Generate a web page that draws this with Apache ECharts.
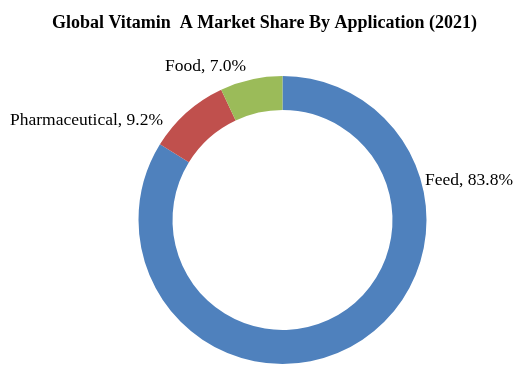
<!DOCTYPE html>
<html><head><meta charset="utf-8">
<script src="https://cdn.jsdelivr.net/npm/echarts@6/dist/echarts.min.js"></script>
<style>html,body{margin:0;padding:0;background:#fff}#c{width:529px;height:379px}</style>
</head><body><div id="c"></div>
<script>
const titleText = 'Global Vitamin  A Market Share By Application (2021)';
const categories = ['Feed', 'Pharmaceutical', 'Food'];
const shares = [83.8, 9.2, 7.0];
const colors = ['#4F81BD', '#C0504D', '#9BBB59'];
const labelSpots = [[425, 180], [10, 120], [165, 66]];

const chart = echarts.init(document.getElementById('c'), null, {renderer: 'canvas'});
chart.setOption({
  animation: false,
  title: {
    text: titleText, left: 'center', top: 9,
    textStyle: {fontFamily: 'Liberation Serif', fontWeight: 'bold', fontSize: 18, color: '#000'}
  },
  series: [{
    type: 'pie',
    center: [282.5, 220],
    radius: [110, 144],
    startAngle: 90,
    clockwise: true,
    data: categories.map((c, i) => ({name: c, value: shares[i], itemStyle: {color: colors[i]}})),
    label: {
      show: true,
      overflow: 'none',
      formatter: p => p.name + ', ' + p.value.toFixed(1) + '%',
      fontFamily: 'Liberation Serif', fontSize: 17.5, color: '#000'
    },
    labelLine: {show: false},
    labelLayout: p => ({x: labelSpots[p.dataIndex][0], y: labelSpots[p.dataIndex][1], align: 'left', verticalAlign: 'middle'}),
    emphasis: {disabled: true}
  }]
});
</script></body></html>
